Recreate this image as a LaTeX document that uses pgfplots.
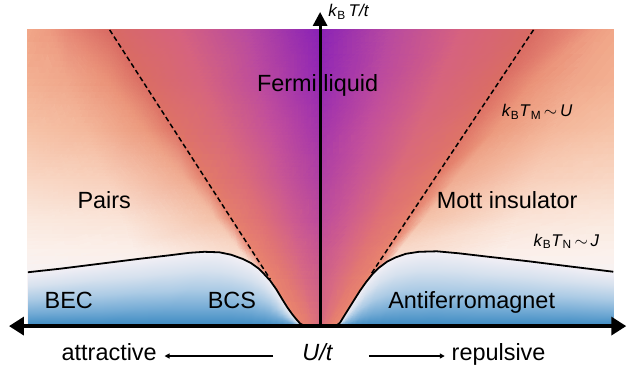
\documentclass[border=0pt]{standalone}
\usepackage{fontspec}
\setmainfont{Liberation Sans}
\usepackage{pgfplots}
\pgfplotsset{compat=1.18}
\usetikzlibrary{arrows.meta}
\pgfplotsset{colormap={bluemap}{rgb255=(242,239,245) rgb255=(214,225,238) rgb255=(172,203,229) rgb255=(116,171,213) rgb255=(58,137,193)}}
\newcommand\bigf{\fontsize{23.5bp}{28bp}\selectfont}
\newcommand\smf{\fontsize{17bp}{20bp}\selectfont}
\begin{document}
\begin{tikzpicture}
\begin{axis}[width=628bp,height=374bp,scale only axis,
  xmin=0,xmax=628,ymin=0,ymax=374,y dir=reverse,hide axis,clip=false,
  point meta min=0,point meta max=1]
\path (axis cs:0,0) rectangle (axis cs:628,374);
% background field
\addplot[surf,shader=interp,mesh/color input=explicit,mesh/cols=13] table[meta=c] {
x y c
28 30 rgb=0.945,0.655,0.537
49 30 rgb=0.933,0.612,0.510
70 30 rgb=0.902,0.529,0.459
110 30 rgb=0.847,0.416,0.388
180.3 30 rgb=0.839,0.384,0.498
250.7 30 rgb=0.722,0.290,0.627
321 30 rgb=0.541,0.133,0.714
392.3 30 rgb=0.722,0.290,0.627
463.7 30 rgb=0.839,0.384,0.498
535 30 rgb=0.847,0.416,0.388
575 30 rgb=0.902,0.529,0.459
595 30 rgb=0.933,0.612,0.510
615 30 rgb=0.945,0.655,0.537

28 80 rgb=0.953,0.694,0.576
67.8 80 rgb=0.941,0.655,0.545
107.6 80 rgb=0.918,0.573,0.471
142.6 80 rgb=0.855,0.427,0.388
202.1 80 rgb=0.839,0.392,0.494
261.5 80 rgb=0.737,0.290,0.620
321 80 rgb=0.580,0.157,0.706
381.2 80 rgb=0.737,0.290,0.620
441.4 80 rgb=0.839,0.392,0.494
501.6 80 rgb=0.855,0.427,0.388
536.6 80 rgb=0.918,0.573,0.471
575.8 80 rgb=0.941,0.655,0.545
615 80 rgb=0.953,0.694,0.576

28 130 rgb=0.965,0.765,0.659
86.6 130 rgb=0.957,0.722,0.612
145.2 130 rgb=0.925,0.604,0.494
175.2 130 rgb=0.871,0.451,0.400
223.8 130 rgb=0.847,0.408,0.486
272.4 130 rgb=0.769,0.314,0.604
321 130 rgb=0.643,0.204,0.675
370.0 130 rgb=0.769,0.314,0.604
419.1 130 rgb=0.847,0.408,0.486
468.1 130 rgb=0.871,0.451,0.400
498.1 130 rgb=0.925,0.604,0.494
556.6 130 rgb=0.957,0.722,0.612
615 130 rgb=0.965,0.765,0.659

28 180 rgb=0.976,0.847,0.776
106.9 180 rgb=0.973,0.816,0.737
185.8 180 rgb=0.941,0.675,0.573
207.8 180 rgb=0.886,0.478,0.408
245.5 180 rgb=0.859,0.424,0.471
283.3 180 rgb=0.784,0.337,0.580
321 180 rgb=0.690,0.251,0.643
358.9 180 rgb=0.784,0.337,0.580
396.8 180 rgb=0.859,0.424,0.471
434.7 180 rgb=0.886,0.478,0.408
456.7 180 rgb=0.941,0.675,0.573
535.9 180 rgb=0.973,0.816,0.737
615 180 rgb=0.976,0.847,0.776

28 220 rgb=0.980,0.914,0.875
122 220 rgb=0.980,0.894,0.847
215.9 220 rgb=0.957,0.761,0.667
233.9 220 rgb=0.898,0.498,0.424
262.9 220 rgb=0.871,0.439,0.463
292.0 220 rgb=0.808,0.361,0.557
321 220 rgb=0.737,0.290,0.620
350.0 220 rgb=0.808,0.361,0.557
378.9 220 rgb=0.871,0.439,0.463
407.9 220 rgb=0.898,0.498,0.424
425.9 220 rgb=0.957,0.761,0.667
520.5 220 rgb=0.980,0.894,0.847
615 220 rgb=0.980,0.914,0.875

28 250 rgb=0.984,0.945,0.925
133.7 250 rgb=0.984,0.937,0.914
239.4 250 rgb=0.973,0.847,0.784
253.4 250 rgb=0.910,0.510,0.431
275.9 250 rgb=0.878,0.455,0.455
298.5 250 rgb=0.831,0.392,0.533
321 250 rgb=0.776,0.329,0.573
343.3 250 rgb=0.831,0.392,0.533
365.5 250 rgb=0.878,0.455,0.455
387.8 250 rgb=0.910,0.510,0.431
401.8 250 rgb=0.973,0.847,0.784
508.4 250 rgb=0.984,0.937,0.914
615 250 rgb=0.984,0.945,0.925

28 280 rgb=0.965,0.953,0.965
145.5 280 rgb=0.965,0.949,0.957
263 280 rgb=0.973,0.902,0.863
273 280 rgb=0.914,0.514,0.431
289 280 rgb=0.886,0.471,0.447
305 280 rgb=0.847,0.416,0.510
321 280 rgb=0.800,0.369,0.541
336.6 280 rgb=0.847,0.416,0.510
352.2 280 rgb=0.886,0.471,0.447
367.8 280 rgb=0.914,0.514,0.431
377.8 280 rgb=0.973,0.902,0.863
496.4 280 rgb=0.965,0.949,0.957
615 280 rgb=0.965,0.953,0.965

28 327 rgb=0.965,0.953,0.965
162.8 327 rgb=0.965,0.953,0.965
297.6 327 rgb=0.957,0.878,0.847
303.6 327 rgb=0.914,0.514,0.431
309.4 327 rgb=0.902,0.494,0.439
315.2 327 rgb=0.878,0.455,0.471
321 327 rgb=0.847,0.416,0.494
326.1 327 rgb=0.878,0.455,0.471
331.2 327 rgb=0.902,0.494,0.439
336.3 327 rgb=0.914,0.514,0.431
342.3 327 rgb=0.957,0.878,0.847
478.7 327 rgb=0.965,0.953,0.965
615 327 rgb=0.965,0.953,0.965
};
% left ordered phase (BEC/BCS)
\addplot[surf,shader=interp,colormap name=bluemap,mesh/cols=21,point meta=\thisrow{t}]
 table[x=x,y expr={\thisrow{yc}+\thisrow{t}*(327-\thisrow{yc})}] {
x yc t
28 273 0
60 269.5 0
100 264.5 0
140 259.5 0
170 256 0
190 253.5 0
205 252.5 0
220 253 0
232 255.5 0
243 259.5 0
252 264 0
259 269 0
265 275 0
271 281.5 0
277 290 0
283 300 0
288 308 0
293 315 0
297 320 0
301 324.5 0
306 327 0

28 273 0.25
60 269.5 0.25
100 264.5 0.25
140 259.5 0.25
170 256 0.25
190 253.5 0.25
205 252.5 0.25
220 253 0.25
232 255.5 0.25
243 259.5 0.25
252 264 0.25
259 269 0.25
265 275 0.25
271 281.5 0.25
277 290 0.25
283 300 0.25
288 308 0.25
293 315 0.25
297 320 0.25
301 324.5 0.25
306 327 0.25

28 273 0.5
60 269.5 0.5
100 264.5 0.5
140 259.5 0.5
170 256 0.5
190 253.5 0.5
205 252.5 0.5
220 253 0.5
232 255.5 0.5
243 259.5 0.5
252 264 0.5
259 269 0.5
265 275 0.5
271 281.5 0.5
277 290 0.5
283 300 0.5
288 308 0.5
293 315 0.5
297 320 0.5
301 324.5 0.5
306 327 0.5

28 273 0.75
60 269.5 0.75
100 264.5 0.75
140 259.5 0.75
170 256 0.75
190 253.5 0.75
205 252.5 0.75
220 253 0.75
232 255.5 0.75
243 259.5 0.75
252 264 0.75
259 269 0.75
265 275 0.75
271 281.5 0.75
277 290 0.75
283 300 0.75
288 308 0.75
293 315 0.75
297 320 0.75
301 324.5 0.75
306 327 0.75

28 273 1
60 269.5 1
100 264.5 1
140 259.5 1
170 256 1
190 253.5 1
205 252.5 1
220 253 1
232 255.5 1
243 259.5 1
252 264 1
259 269 1
265 275 1
271 281.5 1
277 290 1
283 300 1
288 308 1
293 315 1
297 320 1
301 324.5 1
306 327 1
};
% right ordered phase (antiferromagnet)
\addplot[surf,shader=interp,colormap name=bluemap,mesh/cols=19,point meta=\thisrow{t}]
 table[x=x,y expr={\thisrow{yc}+\thisrow{t}*(327-\thisrow{yc})}] {
x yc t
337 327 0
341 323.5 0
345 317 0
350 309 0
355 301 0
361 291.5 0
367 283 0
373 275.5 0
380 268.5 0
388 262.5 0
397 258 0
407 254.5 0
420 252.5 0
438 252 0
460 254 0
490 257.5 0
530 262 0
570 267 0
615 272.5 0

337 327 0.25
341 323.5 0.25
345 317 0.25
350 309 0.25
355 301 0.25
361 291.5 0.25
367 283 0.25
373 275.5 0.25
380 268.5 0.25
388 262.5 0.25
397 258 0.25
407 254.5 0.25
420 252.5 0.25
438 252 0.25
460 254 0.25
490 257.5 0.25
530 262 0.25
570 267 0.25
615 272.5 0.25

337 327 0.5
341 323.5 0.5
345 317 0.5
350 309 0.5
355 301 0.5
361 291.5 0.5
367 283 0.5
373 275.5 0.5
380 268.5 0.5
388 262.5 0.5
397 258 0.5
407 254.5 0.5
420 252.5 0.5
438 252 0.5
460 254 0.5
490 257.5 0.5
530 262 0.5
570 267 0.5
615 272.5 0.5

337 327 0.75
341 323.5 0.75
345 317 0.75
350 309 0.75
355 301 0.75
361 291.5 0.75
367 283 0.75
373 275.5 0.75
380 268.5 0.75
388 262.5 0.75
397 258 0.75
407 254.5 0.75
420 252.5 0.75
438 252 0.75
460 254 0.75
490 257.5 0.75
530 262 0.75
570 267 0.75
615 272.5 0.75

337 327 1
341 323.5 1
345 317 1
350 309 1
355 301 1
361 291.5 1
367 283 1
373 275.5 1
380 268.5 1
388 262.5 1
397 258 1
407 254.5 1
420 252.5 1
438 252 1
460 254 1
490 257.5 1
530 262 1
570 267 1
615 272.5 1
};
% transition lines
\addplot[black,line width=1.8bp,line join=round] coordinates {
(28,273) (60,269.5) (100,264.5) (140,259.5) (170,256) (190,253.5) (205,252.5) (220,253) (232,255.5) (243,259.5) (252,264) (259,269) (265,275) (271,281.5) (277,290) (283,300) (288,308) (293,315) (297,320) (301,324.5) (306,327)};
\addplot[black,line width=1.8bp,line join=round] coordinates {
(337,327) (341,323.5) (345,317) (350,309) (355,301) (361,291.5) (367,283) (373,275.5) (380,268.5) (388,262.5) (397,258) (407,254.5) (420,252.5) (438,252) (460,254) (490,257.5) (530,262) (570,267) (615,272.5)};
\addplot[black,line width=1.5bp,dash pattern=on 5bp off 3bp] coordinates {(110,30) (271,280)};
\addplot[black,line width=1.5bp,dash pattern=on 5bp off 3bp] coordinates {(535,30) (372,275)};
% axes
\draw[line width=3.5bp,{Triangle[length=15bp,width=18bp]}-{Triangle[length=15bp,width=18bp]}] (axis cs:9,327) -- (axis cs:628,327);
\draw[line width=3bp,-{Triangle[length=14bp,width=14bp]}] (axis cs:321,327) -- (axis cs:321,12);
\draw[line width=1.4bp,-{Triangle[length=5bp,width=5bp]}] (axis cs:274,357) -- (axis cs:165,357);
\draw[line width=1.4bp,-{Triangle[length=5bp,width=5bp]}] (axis cs:370,357) -- (axis cs:446,357);
% labels
\node[anchor=base,font=\bigf] at (axis cs:318.5,92) {Fermi liquid};
\node[anchor=base,font=\bigf] at (axis cs:104.5,209) {Pairs};
\node[anchor=base,font=\bigf] at (axis cs:508.5,209) {Mott insulator};
\node[anchor=base,font=\bigf] at (axis cs:69,309) {BEC};
\node[anchor=base,font=\bigf] at (axis cs:232.5,309) {BCS};
\node[anchor=base,font=\bigf] at (axis cs:473,309) {Antiferromagnet};
\node[anchor=base,font=\bigf] at (axis cs:109.5,362) {attractive};
\node[anchor=base,font=\bigf] at (axis cs:318.7,362) {\textit{U/t}};
\node[anchor=base,font=\bigf] at (axis cs:500,362) {repulsive};
\node[anchor=base west,font=\smf,inner sep=0pt] at (axis cs:329,17) {\textit{k}\textsubscript{B}\,\textit{T/t}};
\node[anchor=base west,font=\smf,inner sep=0pt] at (axis cs:503,117) {\textit{k}\textsubscript{B}\textit{T}\textsubscript{M}\,$\sim$\,\textit{U}};
\node[anchor=base west,font=\smf,inner sep=0pt] at (axis cs:535,247) {\textit{k}\textsubscript{B}\textit{T}\textsubscript{N}\,$\sim$\,\textit{J}};
\end{axis}
\end{tikzpicture}
\end{document}
